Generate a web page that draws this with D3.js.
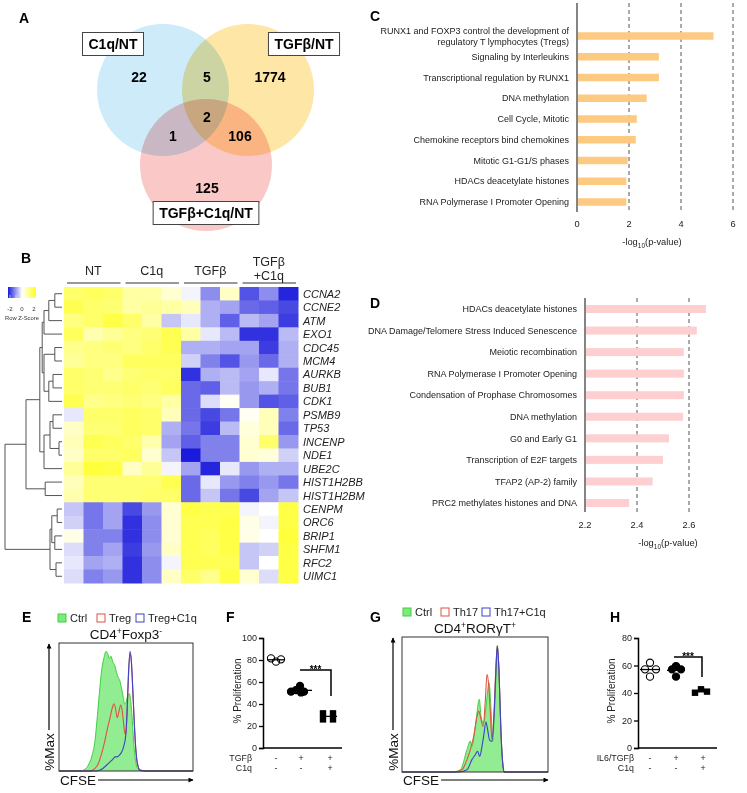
<!DOCTYPE html>
<html><head><meta charset="utf-8">
<script src="https://cdn.jsdelivr.net/npm/d3@7"></script>
<style>body{margin:0;background:#fff} svg{display:block}</style>
</head><body><svg id="fig" width="747" height="793"></svg>
<script>
// ================= DATA =================
const vennSets = ["C1q/NT", "TGFβ/NT", "TGFβ+C1q/NT"];
const vennRegions = ["C1q only", "C1q∩TGFβ", "TGFβ only", "all three", "C1q∩TGFβ+C1q", "TGFβ∩TGFβ+C1q", "TGFβ+C1q only"];
const vennCounts = [22, 5, 1774, 2, 1, 106, 125];

const pathwaysC = [
  "RUNX1 and FOXP3 control the development of\nregulatory T lymphocytes (Tregs)",
  "Signaling by Interleukins",
  "Transcriptional regulation by RUNX1",
  "DNA methylation",
  "Cell Cycle, Mitotic",
  "Chemokine receptors bind chemokines",
  "Mitotic G1-G1/S phases",
  "HDACs deacetylate histones",
  "RNA Polymerase I Promoter Opening"
];
const valuesC = [5.25, 3.15, 3.15, 2.68, 2.3, 2.26, 1.95, 1.9, 1.9];
const ticksC = [0, 2, 4, 6];

const pathwaysD = [
  "HDACs deacetylate histones",
  "DNA Damage/Telomere Stress Induced Senescence",
  "Meiotic recombination",
  "RNA Polymerase I Promoter Opening",
  "Condensation of Prophase Chromosomes",
  "DNA methylation",
  "G0 and Early G1",
  "Transcription of E2F targets",
  "TFAP2 (AP-2) family",
  "PRC2 methylates histones and DNA"
];
const valuesD = [2.665, 2.63, 2.58, 2.58, 2.58, 2.577, 2.523, 2.5, 2.46, 2.37];
const ticksD = [2.2, 2.4, 2.6];

const heatGroups = [["NT"], ["C1q"], ["TGFβ"], ["TGFβ", "+C1q"]];
const genes = ["CCNA2","CCNE2","ATM","EXO1","CDC45","MCM4","AURKB","BUB1","CDK1","PSMB9","TP53","INCENP","NDE1","UBE2C","HIST1H2BB","HIST1H2BM","CENPM","ORC6","BRIP1","SHFM1","RFC2","UIMC1"];
const zScores = [
  [1.3,1.4,1.3,0.8,0.8,0.4,-0.1,-1.0,0.5,-1.5,-1.0,-1.9],
  [1.5,1.3,1.2,0.8,0.9,0.8,0.6,-0.7,-0.8,-1.3,-1.4,-1.6],
  [1.1,1.3,1.6,1.3,0.8,-0.5,-0.2,-0.7,-1.4,-0.6,-0.8,-1.7],
  [1.4,0.7,0.9,1.1,1.2,1.5,0.8,-0.2,-0.6,-1.8,-1.8,-0.6],
  [1.0,1.1,1.2,1.1,1.3,1.5,-0.7,-0.7,-0.8,-0.8,-1.7,-0.7],
  [0.9,1.1,1.1,1.4,1.4,1.4,-0.4,-1.1,-1.5,-0.9,-1.3,-0.7],
  [1.3,1.2,1.0,1.2,1.3,1.3,-1.8,-0.7,-0.6,-0.8,-0.2,-1.2],
  [1.3,1.2,1.2,1.3,1.2,1.4,-1.3,-1.4,-0.6,-0.9,-0.7,-1.2],
  [1.5,1.0,1.1,1.2,1.1,0.8,-1.3,-0.3,0.1,-0.9,-1.5,-1.4],
  [-0.2,1.3,1.3,1.4,1.3,0.6,-1.3,-1.6,-1.2,0.1,0.6,-1.1],
  [0.5,1.2,1.2,1.4,1.3,-0.7,-1.2,-1.7,-0.6,0.3,0.6,-1.3],
  [0.6,1.5,1.4,1.3,0.7,-0.8,-1.4,-1.1,-1.1,0.4,1.3,-0.9],
  [0.5,1.3,1.3,1.4,0.4,-0.5,-2.0,-1.1,-1.1,0.4,0.3,-0.4],
  [0.9,1.7,1.6,0.5,0.9,-0.1,-0.8,-1.9,-0.2,-0.9,-0.7,-0.7],
  [0.6,1.2,1.2,1.2,1.2,1.5,-1.3,-0.2,-0.9,-1.1,-0.9,-1.2],
  [0.7,1.2,1.2,1.2,1.3,1.3,-1.3,-0.5,-1.2,-1.6,-0.8,-0.5],
  [-0.5,-1.2,-0.8,-1.6,-0.9,0.4,1.6,1.5,1.5,-0.1,0.0,1.6],
  [-0.4,-1.2,-0.8,-1.8,-1.0,0.4,1.5,1.5,1.6,0.2,-0.1,1.6],
  [0.2,-1.1,-1.1,-1.8,-1.0,0.4,1.5,1.4,1.6,0.2,0.0,1.7],
  [-0.3,-1.1,-0.8,-1.7,-0.9,0.5,1.5,1.4,1.6,-0.5,-0.4,1.6],
  [-0.2,-0.8,-0.7,-1.8,-1.0,-0.1,1.5,1.5,1.5,-0.5,0.0,1.6],
  [-0.3,-1.1,-0.9,-1.8,-1.0,0.5,1.3,1.0,1.6,0.4,-0.3,1.6]
];
// dendrogram: [mergeHeight, left, right]; numbers are row indices
const dendrogram = [9.5,
  [6.0,
    [3.7,
      [3.3,
        [3.0, [2.2, [1.2, 0, 1], 2], 3],
        [3.0, [1.2, 4, 5], [2.2, [1.5, 6, 7], 8]]
      ],
      [3.0, [2.0, [1.5, 9, 10], [0.5, 11, 12]], 13]
    ],
    [2.8, 14, 15]
  ],
  [2.0, [1.7, [0.8, 16, 17], [1.2, 18, 19]], [1.0, 20, 21]]
];

// Panel E histograms: [CFSE (0-100 scaled), %Max]
const ctrlE = [[0,0],[15.7,0],[19.4,1.4],[21.9,5],[24.4,11.8],[26.9,25.6],[28.6,45.5],[30.1,64.7],[31.8,83.9],[33.6,94.8],[35.1,100],[36.6,97.2],[37.6,93.9],[38.8,95.9],[40,91.7],[41.8,87.6],[43,82.1],[44.3,77.9],[45.5,75.2],[46.8,68.3],[48,61.4],[49,55.9],[50,57.3],[51.2,62.8],[52.5,64.7],[53.5,58.7],[54.7,42.1],[56,20.1],[57.5,6.3],[59.2,1.4],[61.7,0],[100,0]];
const tregE = [[0,0],[23.1,0],[26.9,2.2],[29.4,6.3],[31.8,14.6],[34.3,25.6],[36.1,35.3],[38.1,44.6],[39.8,52.9],[41,56.2],[42.3,51.5],[43.5,44.6],[44.8,50.1],[46,55.1],[47,51.5],[48,41.9],[49.3,30.9],[50,32.2],[51,52.9],[52,83.2],[53,98.5],[54,91.7],[55,69.7],[56,44.6],[57.2,19.8],[58.5,6.3],[60.4,0.8],[65.4,0],[100,0]];
const tregC1qE = [[0,0],[28.1,0],[31.8,1.4],[35.6,5],[38.1,7.7],[40,9.6],[41.8,11.8],[43.5,11.8],[45,13.2],[46.8,15.9],[48.5,21.5],[49.8,29.8],[50.7,47.7],[51.7,77.9],[53,100],[54,91.7],[55,69.7],[56,44.6],[57.2,19.8],[58.5,6.3],[60.4,0.8],[65.4,0],[100,0]];
// Panel G histograms
const ctrlG = [[0,0],[34.2,0],[40,1.8],[44.5,17.7],[46.8,24.5],[47.9,20.3],[50.2,36.1],[53,57.5],[54.1,44.1],[55.9,38.8],[57.8,54.6],[59.6,70.7],[61,49.1],[62.1,24.3],[63.2,44.3],[64.6,81.3],[65.3,100],[66.4,81],[67.8,30.9],[69.2,4.5],[70.1,0],[100,0]];
const th17G = [[0,0],[35.4,0],[41.1,1.8],[44.5,9.8],[46.8,17.7],[49.1,28.2],[51.4,44.1],[52.5,48.3],[53.7,44.1],[55.5,36.1],[57.1,57.2],[58.2,77.5],[59.4,68.3],[60.5,47.2],[61.6,25.6],[63.2,51.5],[64.4,85.8],[65.3,100],[66.4,81],[67.8,30.9],[69.2,4.5],[70.1,0],[100,0]];
const th17C1qG = [[0,0],[38.8,0],[44.5,1.8],[47.9,9.8],[50.2,13.7],[51.8,16.4],[53.2,12.4],[54.8,20.3],[55.9,28.2],[57.5,39.6],[58.7,33.2],[60,25.3],[61.6,24.3],[63.2,49.1],[64.4,83.1],[65.3,100],[66.4,81],[67.8,30.9],[69.2,4.5],[70.1,0],[100,0]];
const legendE = ["Ctrl", "Treg", "Treg+C1q"];
const legendG = ["Ctrl", "Th17", "Th17+C1q"];

// Panel F
const fTGFb = ["-", "+", "+"];
const fC1q = ["-", "-", "+"];
const fValues = [[81.5, 78.5, 80.6], [51.2, 52.7, 56.4, 50.5, 51.2], [31.5, 31.5, 26, 26]];
const fTicks = [0, 20, 40, 60, 80, 100];
// Panel H
const hIL6 = ["-", "+", "+"];
const hC1q = ["-", "-", "+"];
const hValues = [[62, 57.2, 57.2, 51.9], [59.6, 57.2, 57.2, 51.9], [40.2, 42.7, 41.0]];
const hTicks = [0, 20, 40, 60, 80];

// ================= DRAWING =================
const FONT = '"Liberation Sans", Arial, Helvetica, sans-serif';
const svg = d3.select("#fig").attr("font-family", FONT);

const defs = svg.append("defs");
defs.append("marker").attr("id", "arr").attr("viewBox", "0 0 10 10").attr("refX", 9).attr("refY", 5)
  .attr("markerWidth", 7).attr("markerHeight", 5).attr("orient", "auto").attr("markerUnits", "userSpaceOnUse")
  .append("path").attr("d", "M0,0L10,5L0,10z").attr("fill", "#000");

function letter(t, x, y) {
  svg.append("text").attr("x", x).attr("y", y).attr("font-size", 14).attr("font-weight", "bold").text(t);
}
[["A",19,23],["B",21,263],["C",370,21],["D",370,308],["E",22,622],["F",226,622],["G",370,622],["H",610,622]]
  .forEach(d => letter(...d));

// ---------- A: Venn ----------
{
  const r = 66;
  const circles = [[163, 90, "#cdebf9"], [248, 90, "#fde6a6"], [206, 165, "#fbc8c8"]];
  const g = svg.append("g").style("isolation", "isolate");
  g.selectAll("circle").data(circles).join("circle")
    .attr("cx", d => d[0]).attr("cy", d => d[1]).attr("r", r)
    .attr("fill", d => d[2]).style("mix-blend-mode", "multiply");
  const pos = [[139,77],[207,77],[270,77],[207,117],[173,136],[240,136],[207,188]];
  svg.selectAll(".vn").data(vennCounts).join("text")
    .attr("x", (d, i) => pos[i][0]).attr("y", (d, i) => pos[i][1]).attr("dy", "0.36em")
    .attr("text-anchor", "middle").attr("font-size", 14).attr("font-weight", "bold").text(d => d);
  const boxes = [[113, 44], [304, 44], [206, 213]];
  vennSets.forEach((s, i) => {
    const bg = svg.append("g");
    const rect = bg.append("rect");
    const t = bg.append("text").attr("x", boxes[i][0]).attr("y", boxes[i][1]).attr("dy", "0.36em")
      .attr("text-anchor", "middle").attr("font-size", 14).attr("font-weight", "bold").text(s);
    const w = t.node().getComputedTextLength() + 12;
    rect.attr("x", boxes[i][0] - w / 2).attr("y", boxes[i][1] - 11.5).attr("width", w).attr("height", 23)
      .attr("fill", "#fff").attr("stroke", "#444").attr("stroke-width", 1);
  });
}

// ---------- C & D: bar panels ----------
function barPanel(labels, values, ticks, o) {
  const x = d3.scaleLinear().domain(o.domain).range(o.range);
  const y = d3.scalePoint().domain(labels).range([o.y0, o.y1]);
  const g = svg.append("g");
  ticks.slice(1).forEach(t => {
    g.append("line").attr("x1", x(t)).attr("x2", x(t)).attr("y1", o.top).attr("y2", o.bottom)
      .attr("stroke", "#555").attr("stroke-dasharray", "4,3").attr("stroke-width", 1);
  });
  g.selectAll("rect").data(values).join("rect")
    .attr("x", x(o.domain[0]) + 1).attr("y", (d, i) => y(labels[i]) - o.barH / 2)
    .attr("width", d => x(d) - x(o.domain[0]) - 1).attr("height", o.barH).attr("fill", o.color);
  g.append("line").attr("x1", x(o.domain[0])).attr("x2", x(o.domain[0])).attr("y1", o.top).attr("y2", o.bottom)
    .attr("stroke", "#333").attr("stroke-width", 1.2);
  labels.forEach(l => {
    const lines = l.split("\n");
    const t = g.append("text").attr("x", o.labelX).attr("y", y(l)).attr("text-anchor", "end")
      .attr("font-size", 9).attr("fill", "#222");
    lines.forEach((ln, k) => t.append("tspan").attr("x", o.labelX)
      .attr("y", y(l) + 3.2 + (k - (lines.length - 1) / 2) * 11).text(ln));
  });
  g.selectAll(".tk").data(ticks).join("text").attr("x", d => x(d)).attr("y", o.tickY)
    .attr("text-anchor", "middle").attr("font-size", 9.3).attr("fill", "#222").text(d => d);
  const lt = g.append("text").attr("x", o.titleX).attr("y", o.titleY).attr("text-anchor", "middle")
    .attr("font-size", 9.3).attr("fill", "#222");
  lt.append("tspan").text("-log");
  lt.append("tspan").attr("dy", 2.5).attr("font-size", 6.5).text("10");
  lt.append("tspan").attr("dy", -2.5).text("(p-value)");
}
barPanel(pathwaysC, valuesC, ticksC, {domain: [0, 6], range: [577, 733], y0: 36, y1: 202, top: 3, bottom: 212,
  barH: 7.5, color: "#fdca82", labelX: 569, tickY: 227, titleX: 652, titleY: 245});
barPanel(pathwaysD, valuesD, ticksD, {domain: [2.2, 2.6], range: [585, 689], y0: 309, y1: 503, top: 298, bottom: 512,
  barH: 8, color: "#fdcfd0", labelX: 577, tickY: 528, titleX: 668, titleY: 546});

// ---------- B: heatmap ----------
{
  const cols = d3.range(12);
  const x = d3.scaleBand().domain(cols).range([64, 298]);
  const y = d3.scaleBand().domain(genes).range([287, 583]);
  const color = d3.scaleLinear().domain([-2, 0, 2]).range(["#1a1adc", "#ffffff", "#ffff18"]).clamp(true);
  const g = svg.append("g");
  zScores.forEach((row, i) => {
    g.selectAll(null).data(row).join("rect")
      .attr("x", (d, j) => x(j)).attr("y", y(genes[i])).attr("width", x.bandwidth() + 0.5)
      .attr("height", y.bandwidth() + 0.5).attr("fill", d => color(d));
  });
  g.selectAll(".gl").data(genes).join("text").attr("x", 303).attr("y", d => y(d) + y.bandwidth() / 2 + 4)
    .attr("font-size", 11).attr("font-style", "italic").attr("fill", "#222").text(d => d);
  // group headers
  heatGroups.forEach((lines, k) => {
    const x0 = x(k * 3), x1 = x(k * 3 + 2) + x.bandwidth();
    const cx = (x0 + x1) / 2;
    g.append("line").attr("x1", x0 + 3).attr("x2", x1 - 2).attr("y1", 283).attr("y2", 283)
      .attr("stroke", "#333").attr("stroke-width", 1);
    lines.forEach((ln, m) => g.append("text").attr("x", cx)
      .attr("y", lines.length === 1 ? 275 : 266 + m * 13.5).attr("text-anchor", "middle")
      .attr("font-size", 12.5).attr("fill", "#222").text(ln));
  });
  // dendrogram
  const xd = d3.scaleLinear().domain([0, 10]).range([62, 2]);
  const dg = svg.append("g").attr("fill", "none").attr("stroke", "#555").attr("stroke-width", 1);
  function walk(node) {
    if (typeof node === "number") return {h: 0, y: y(genes[node]) + y.bandwidth() / 2};
    const a = walk(node[1]), b = walk(node[2]);
    const xh = xd(node[0]);
    dg.append("path").attr("d", `M${xd(a.h)},${a.y}H${xh}V${b.y}H${xd(b.h)}`);
    return {h: node[0], y: (a.y + b.y) / 2};
  }
  walk(dendrogram);
  // color key
  const lg = defs.append("linearGradient").attr("id", "zgrad");
  [["0%", color(-2)], ["50%", color(0)], ["100%", color(2)]].forEach(s =>
    lg.append("stop").attr("offset", s[0]).attr("stop-color", s[1]));
  const kx = d3.scaleLinear().domain([-2, 2]).range([10, 34]);
  svg.append("rect").attr("x", 8).attr("y", 287).attr("width", 28).attr("height", 11).attr("fill", "url(#zgrad)");
  [-2, -1, 0, 1, 2].forEach(v => svg.append("line").attr("x1", kx(v)).attr("x2", kx(v)).attr("y1", 295).attr("y2", 298)
    .attr("stroke", "#fff").attr("stroke-width", 0.6));
  [-2, 0, 2].forEach(v => svg.append("text").attr("x", kx(v)).attr("y", 311).attr("text-anchor", "middle")
    .attr("font-size", 6).attr("fill", "#333").text(v));
  svg.append("text").attr("x", 22).attr("y", 320).attr("text-anchor", "middle").attr("font-size", 5.8)
    .attr("fill", "#333").text("Row Z-Score");
}

// ---------- E & G: histograms ----------
function histPanel(series, legend, titleParts, o) {
  const x = d3.scaleLinear().domain([0, 100]).range([o.x0, o.x1]);
  const y = d3.scaleLinear().domain([0, 107]).range([o.y1, o.y0]);
  const g = svg.append("g");
  const area = d3.area().x(d => x(d[0])).y0(y(0)).y1(d => y(d[1])).curve(d3.curveMonotoneX);
  const line = d3.line().x(d => x(d[0])).y(d => y(d[1])).curve(d3.curveMonotoneX);
  g.append("path").attr("d", area(series[0])).attr("fill", "#92ec92");
  g.append("path").attr("d", line(series[0])).attr("fill", "none").attr("stroke", "#3fcf3f").attr("stroke-width", 1);
  g.append("path").attr("d", line(series[1])).attr("fill", "none").attr("stroke", "#e0533f").attr("stroke-width", 1.1);
  g.append("path").attr("d", line(series[2])).attr("fill", "none").attr("stroke", "#3c45c8").attr("stroke-width", 1.1);
  g.append("rect").attr("x", o.x0).attr("y", o.y0).attr("width", o.x1 - o.x0).attr("height", o.y1 - o.y0)
    .attr("fill", "none").attr("stroke", "#333").attr("stroke-width", 1);
  // legend
  const lstyles = [{fill: "#7ee97e", stroke: "#3fcf3f"}, {fill: "none", stroke: "#e0533f"}, {fill: "none", stroke: "#3c45c8"}];
  legend.forEach((l, i) => {
    g.append("rect").attr("x", o.legX[i]).attr("y", o.legY - 4).attr("width", 8).attr("height", 8)
      .attr("fill", lstyles[i].fill).attr("stroke", lstyles[i].stroke).attr("stroke-width", 1);
    g.append("text").attr("x", o.legX[i] + 12).attr("y", o.legY + 4).attr("font-size", 11).attr("fill", "#222").text(l);
  });
  // title
  const t = g.append("text").attr("x", (o.x0 + o.x1) / 2).attr("y", o.y0 - 4).attr("text-anchor", "middle")
    .attr("font-size", 13.5).attr("fill", "#111");
  titleParts.forEach(p => {
    if (p[1]) t.append("tspan").attr("font-size", 8.5).attr("dy", -5).text(p[0]);
    else t.append("tspan").attr("dy", p[2] ? 5 : 0).text(p[0]);
  });
  // axes arrows
  g.append("line").attr("x1", o.ax).attr("x2", o.ax).attr("y1", 730).attr("y2", o.y0 + 1)
    .attr("stroke", "#000").attr("stroke-width", 1.2).attr("marker-end", "url(#arr)");
  g.append("text").attr("transform", `translate(${o.ax + 5},752) rotate(-90)`).attr("text-anchor", "middle")
    .attr("font-size", 13.5).attr("fill", "#111").text("%Max");
  const ct = g.append("text").attr("x", o.x0 + 1).attr("y", 785).attr("font-size", 13.5).attr("fill", "#111").text("CFSE");
  const cw = ct.node().getComputedTextLength();
  g.append("line").attr("x1", o.x0 + cw + 3).attr("x2", o.x1).attr("y1", 780).attr("y2", 780)
    .attr("stroke", "#000").attr("stroke-width", 1.2).attr("marker-end", "url(#arr)");
}
histPanel([ctrlE, tregE, tregC1qE], legendE, [["CD4"], ["+", true], ["Foxp3", false, true], ["-", true]],
  {x0: 59, x1: 193, y0: 643, y1: 771, legX: [58, 97, 136], legY: 618, ax: 49});
histPanel([ctrlG, th17G, th17C1qG], legendG, [["CD4"], ["+", true], ["RORγT", false, true], ["+", true]],
  {x0: 402, x1: 548, y0: 637, y1: 772, legX: [403, 441, 482], legY: 612, ax: 393});

// ---------- F & H: dot plots ----------
function dotPanel(values, ticks, rowLabels, rowNames, o) {
  const y = d3.scaleLinear().domain([0, ticks[ticks.length - 1]]).range([748, 638]);
  const g = svg.append("g");
  const ax = g.append("g").attr("transform", `translate(${o.axX},0)`)
    .call(d3.axisLeft(y).tickValues(ticks).tickSize(4).tickPadding(2));
  ax.select(".domain").attr("stroke-width", 1.5);
  ax.selectAll(".tick line").attr("stroke-width", 1.3);
  ax.selectAll("text").attr("font-size", 9).attr("font-family", FONT).attr("fill", "#222");
  g.append("line").attr("x1", o.axX).attr("x2", o.axEnd).attr("y1", 748).attr("y2", 748)
    .attr("stroke", "#000").attr("stroke-width", 1.5);
  g.append("text").attr("transform", `translate(${o.ylabX},${y(ticks[ticks.length - 1] / 2) - 2}) rotate(-90)`)
    .attr("text-anchor", "middle").attr("font-size", 10).attr("fill", "#222").text("% Proliferation");
  values.forEach((vals, gi) => {
    const cx = o.groupX[gi];
    const mean = d3.mean(vals);
    g.append("line").attr("x1", cx - o.meanW[gi][0]).attr("x2", cx + o.meanW[gi][1]).attr("y1", y(mean)).attr("y2", y(mean))
      .attr("stroke", "#000").attr("stroke-width", 1.3);
    vals.forEach((v, k) => {
      const px = cx + o.jitter[gi][k];
      if (gi === 2) g.append("rect").attr("x", px - 3.2).attr("y", y(v) - 3.2).attr("width", 6.4).attr("height", 6.4).attr("fill", "#000");
      else g.append("circle").attr("cx", px).attr("cy", y(v)).attr("r", 3.6)
        .attr("fill", gi === 0 ? "none" : "#000").attr("stroke", "#000").attr("stroke-width", 1.1);
    });
  });
  rowLabels.forEach((row, ri) => {
    const by = 761 + ri * 10;
    g.append("text").attr("x", o.rowNameX).attr("y", by).attr("text-anchor", "end").attr("font-size", 8.8)
      .attr("fill", "#222").text(rowNames[ri]);
    row.forEach((s, gi) => g.append("text").attr("x", o.groupX[gi]).attr("y", by).attr("text-anchor", "middle")
      .attr("font-size", 8.8).attr("fill", "#222").text(s));
  });
  // significance bracket
  const [bx0, bx1, by0, by1] = o.bracket;
  g.append("path").attr("d", `M${bx0},${by0}H${bx1}V${by1}`).attr("fill", "none").attr("stroke", "#000").attr("stroke-width", 1.5);
  g.append("text").attr("x", (bx0 + bx1) / 2).attr("y", by0 + 3).attr("text-anchor", "middle").attr("font-size", 10)
    .attr("font-weight", "bold").text("***");
}
dotPanel(fValues, fTicks, [fTGFb, fC1q], ["TGFβ", "C1q"], {axX: 263, axEnd: 342, groupX: [276, 301, 330],
  jitter: [[-5, 0, 5], [-10, -5, -1, 0, 3], [-7, 3, -7, 3]], meanW: [[9, 9], [12, 11], [10, 7]],
  ylabX: 241, rowNameX: 252, bracket: [300, 331, 670, 696]});
dotPanel(hValues, hTicks, [hIL6, hC1q], ["IL6/TGFβ", "C1q"], {axX: 638, axEnd: 717, groupX: [650, 676, 703],
  jitter: [[0, -5, 6, 0], [0, -4, 5, 0], [-8, -2, 4]], meanW: [[10, 10], [9, 9], [11, 7]],
  ylabX: 615, rowNameX: 634, bracket: [674, 702, 657, 677]});
</script>
</body></html>
